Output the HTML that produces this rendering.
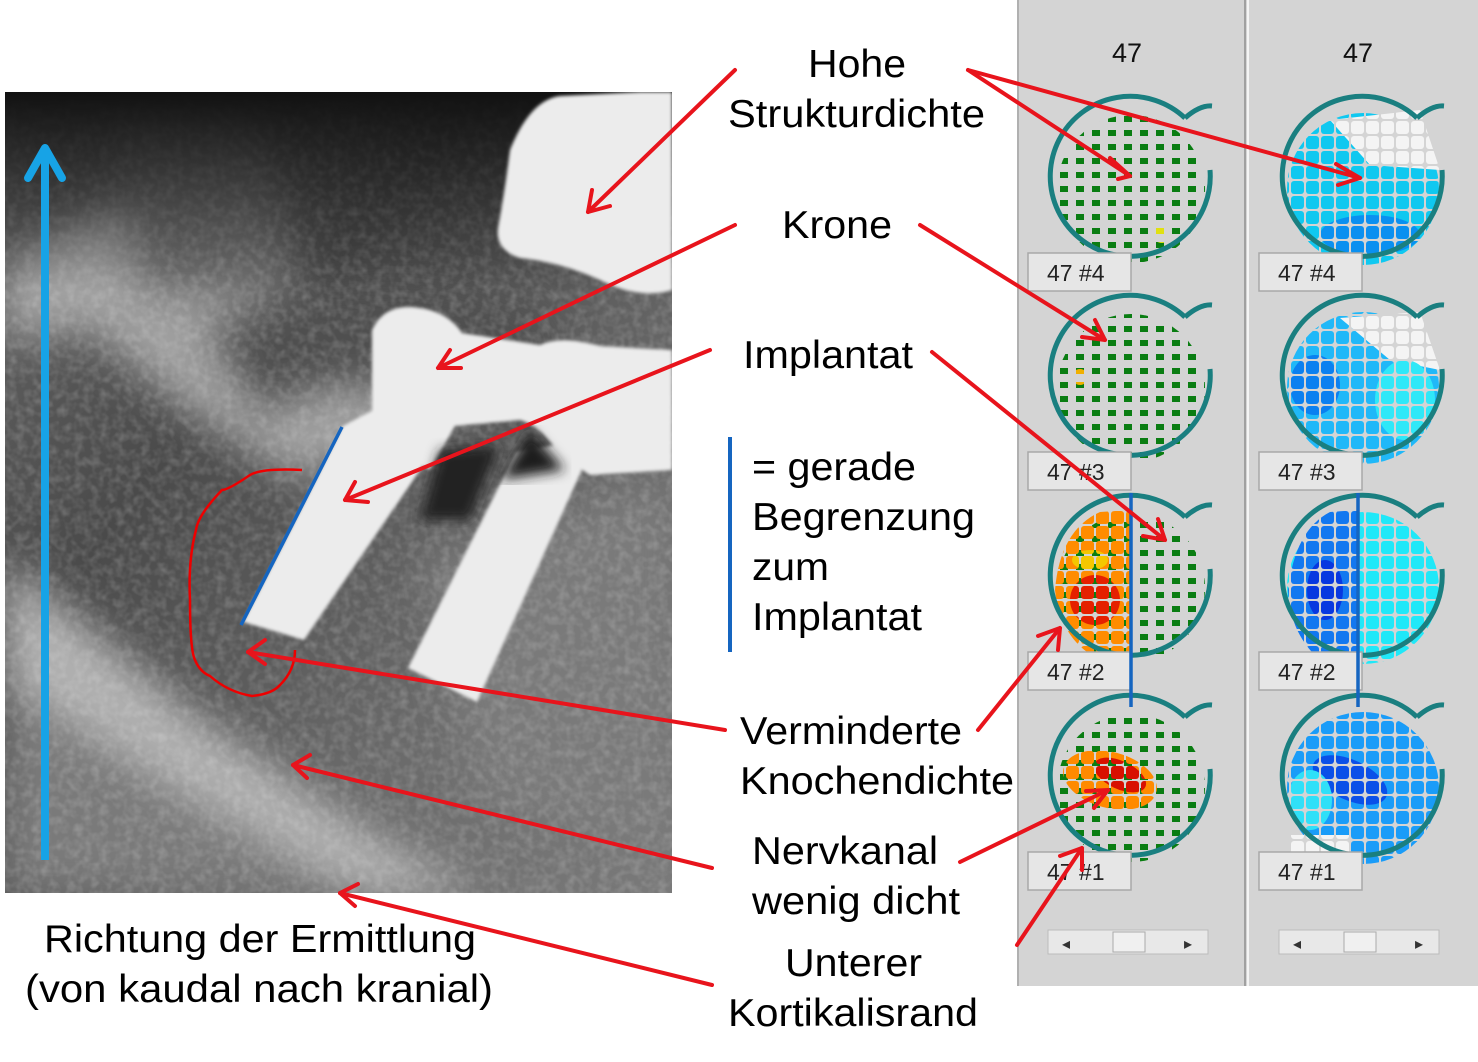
<!DOCTYPE html>
<html><head><meta charset="utf-8"><style>
html,body{margin:0;padding:0;background:#fff}
svg{display:block}
text{font-family:"Liberation Sans",Arial,sans-serif}
</style></head><body>
<svg width="1478" height="1062" viewBox="0 0 1478 1062" xmlns="http://www.w3.org/2000/svg">
<defs>
  <linearGradient id="xbg" x1="0" y1="0" x2="1" y2="1">
    <stop offset="0" stop-color="#6a6a6a"/>
    <stop offset="0.35" stop-color="#4a4a4a"/>
    <stop offset="0.7" stop-color="#6a6a6a"/>
    <stop offset="1" stop-color="#7a7a7a"/>
  </linearGradient>
  <linearGradient id="top" x1="0" y1="0" x2="0" y2="1">
    <stop offset="0" stop-color="#111"/><stop offset="1" stop-color="#111" stop-opacity="0"/>
  </linearGradient>
  <filter id="b6"><feGaussianBlur stdDeviation="6"/></filter>
  <filter id="b2"><feGaussianBlur stdDeviation="1.5"/></filter>
  <filter id="b20"><feGaussianBlur stdDeviation="20"/></filter>
  <filter id="noise" x="0" y="0" width="1" height="1">
    <feTurbulence type="fractalNoise" baseFrequency="0.12" numOctaves="2" seed="3"/>
    <feColorMatrix type="matrix" values="0 0 0 0 1  0 0 0 0 1  0 0 0 0 1  1.2 0 0 0 -0.45"/>
  </filter>
  <clipPath id="xclip"><rect x="5" y="92" width="667" height="801"/></clipPath>
  <pattern id="dots" width="16" height="14" patternUnits="userSpaceOnUse">
    <rect x="4" y="4" width="8" height="6" fill="#fff"/>
  </pattern>
  <pattern id="blobs" width="15" height="15" patternUnits="userSpaceOnUse">
    <rect x="1" y="1" width="13" height="13" rx="3" fill="#fff"/>
  </pattern>
  <mask id="mG" maskUnits="userSpaceOnUse" x="0" y="0" width="1478" height="1062"><rect x="0" y="0" width="1478" height="1062" fill="url(#dots)"/></mask>
  <mask id="mB" maskUnits="userSpaceOnUse" x="0" y="0" width="1478" height="1062"><rect x="0" y="0" width="1478" height="1062" fill="url(#blobs)"/></mask>
</defs>

<g clip-path="url(#xclip)">
  <rect x="5" y="92" width="667" height="801" fill="url(#xbg)"/>
  <g filter="url(#b20)">
    <path d="M5 260 L120 200 L240 260 L330 340 L420 430 L300 480 L200 420 L90 330 L5 340Z" fill="#a0a0a0"/>
    <path d="M5 650 L140 760 L300 830 L420 893 L5 893Z" fill="#7a7a7a"/>
    <path d="M5 560 L200 720 L380 840 L480 893 L360 893 L180 790 L5 680Z" fill="#b0b0b0"/>
    <path d="M100 92 L260 92 L300 300 L140 300Z" fill="#6e6e6e"/>
    <path d="M420 560 L672 480 L672 860 L480 800 Z" fill="#7a7a7a"/>
    <path d="M200 330 Q400 230 560 330 L520 440 Q380 350 260 420Z" fill="#505050"/>
  </g>
  <rect x="5" y="92" width="667" height="801" filter="url(#noise)" opacity="0.3"/>
  <rect x="5" y="92" width="667" height="200" fill="url(#top)"/>
  <g filter="url(#b2)" fill="#ececec">
    <path d="M510 150 Q530 100 560 96 L640 92 L672 92 L672 290 Q640 300 600 280 Q560 262 520 258 Q495 250 498 228 Q505 190 510 150Z"/>
    <path d="M372 330 Q385 302 420 308 Q448 312 462 333 L540 345 Q560 335 600 346 L672 350 L672 470 L590 475 L560 455 Q540 425 520 420 L455 426 L430 470 L372 440Z"/>
    <path d="M343 426 L392 400 L440 440 L412 482 L304 640 L243 622Z"/>
    <path d="M516 452 L585 440 L581 472 L477 702 L408 668Z"/>
  </g>
  <path d="M500 480 L565 470 L530 430 Z" fill="#1a1a1a" filter="url(#b6)"/>
  <path d="M440 450 L500 445 L470 520 L420 520Z" fill="#222" filter="url(#b6)"/>
</g>
<line x1="45" y1="860" x2="45" y2="150" stroke="#17a3e6" stroke-width="8"/>
<polyline points="28,178 45,148 62,178" fill="none" stroke="#17a3e6" stroke-width="8" stroke-linecap="round" stroke-linejoin="round"/>
<line x1="342" y1="427" x2="241" y2="625" stroke="#1565c0" stroke-width="3.5"/>
<path d="M302 470 Q262 468 250 475 Q228 490 222 490 Q198 515 196 530 Q188 560 190 600 Q190 650 195 660 Q200 672 210 676 Q228 692 252 696 Q272 694 280 685 Q295 670 295 650" fill="none" stroke="#e00" stroke-width="2.5"/>

<rect x="1017" y="0" width="461" height="986" fill="#d4d4d4"/>
<line x1="1018" y1="0" x2="1018" y2="986" stroke="#b0b0b0" stroke-width="2"/>
<line x1="1245" y1="0" x2="1245" y2="986" stroke="#a0a0a0" stroke-width="2"/>
<line x1="1248" y1="0" x2="1248" y2="986" stroke="#f4f4f4" stroke-width="2"/>
<text x="1127" y="62" font-size="27" text-anchor="middle" fill="#111">47</text>
<text x="1358" y="62" font-size="27" text-anchor="middle" fill="#111">47</text>

<g>
  <g mask="url(#mG)"><circle cx="1131" cy="189" r="74" fill="#0a7d12"/><circle cx="1162" cy="233" r="10" fill="#e0e010"/></g>
  <g mask="url(#mG)"><circle cx="1131" cy="388" r="74" fill="#0a7d12"/><circle cx="1080" cy="377" r="8" fill="#f0b000"/></g>
  <g mask="url(#mG)"><circle cx="1131" cy="588" r="74" fill="#0a7d12"/></g>
  <g mask="url(#mB)">
    <path d="M1131 510 L1131 660 L1100 660 Q1060 640 1055 590 Q1060 530 1100 512Z" fill="#ff8c00"/>
    <ellipse cx="1095" cy="600" rx="25" ry="25" fill="#e52000"/>
    <ellipse cx="1090" cy="560" rx="18" ry="10" fill="#f0e000" opacity=".7"/>
  </g>
  <g mask="url(#mG)"><circle cx="1131" cy="788" r="74" fill="#0a7d12"/></g>
  <g mask="url(#mB)">
    <ellipse cx="1110" cy="780" rx="48" ry="28" fill="#ff8a00" transform="rotate(15 1110 780)"/>
    <ellipse cx="1120" cy="775" rx="28" ry="14" fill="#d81000" transform="rotate(25 1120 775)"/>
  </g>
</g>
<g mask="url(#mB)">
  <circle cx="1363" cy="189" r="76" fill="#10c8f0"/>
  <path d="M1330 120 L1420 110 L1440 170 L1370 165Z" fill="#f4f4f4"/>
  <ellipse cx="1370" cy="235" rx="50" ry="20" fill="#0a90f0"/>
  <circle cx="1363" cy="388" r="76" fill="#20b8f8"/>
  <path d="M1340 318 L1420 312 L1440 370 L1390 360Z" fill="#f4f4f4"/>
  <ellipse cx="1315" cy="385" rx="25" ry="30" fill="#0a80f0"/>
  <ellipse cx="1405" cy="400" rx="30" ry="40" fill="#30e8f8"/>
  <circle cx="1363" cy="588" r="76" fill="#20e8f8"/>
  <path d="M1358 510 L1358 668 L1330 668 Q1290 640 1288 590 Q1295 530 1330 512Z" fill="#1278f0"/>
  <ellipse cx="1325" cy="590" rx="18" ry="30" fill="#0838e0"/>
  <circle cx="1363" cy="788" r="76" fill="#1a9cf8"/>
  <ellipse cx="1350" cy="780" rx="40" ry="20" fill="#0a50e8" transform="rotate(25 1350 780)"/>
  <ellipse cx="1310" cy="800" rx="22" ry="30" fill="#30e0f8"/>
  <rect x="1290" y="835" width="60" height="30" fill="#f4f4f4"/>
</g>
<g fill="none" stroke="#1a7f80" stroke-width="5">
  <path d="M1185 118 A80 80 0 1 0 1210 170 M1185 118 Q1200 105 1212 106"/>
  <path d="M1185 317 A80 80 0 1 0 1210 369 M1185 317 Q1200 304 1212 305"/>
  <path d="M1185 517 A80 80 0 1 0 1210 569 M1185 517 Q1200 504 1212 505"/>
  <path d="M1185 717 A80 80 0 1 0 1210 769 M1185 717 Q1200 704 1212 705"/>
  <path d="M1417 118 A80 80 0 1 0 1442 170 M1417 118 Q1432 105 1444 106"/>
  <path d="M1417 317 A80 80 0 1 0 1442 369 M1417 317 Q1432 304 1444 305"/>
  <path d="M1417 517 A80 80 0 1 0 1442 569 M1417 517 Q1432 504 1444 505"/>
  <path d="M1417 717 A80 80 0 1 0 1442 769 M1417 717 Q1432 704 1444 705"/>
</g>
<g font-size="23" fill="#222">
  <g fill="#e6e6e6" stroke="#a8a8a8" stroke-width="1.5">
    <rect x="1028" y="253" width="103" height="38"/><rect x="1259" y="253" width="103" height="38"/>
    <rect x="1028" y="452" width="103" height="38"/><rect x="1259" y="452" width="103" height="38"/>
    <rect x="1028" y="652" width="103" height="38"/><rect x="1259" y="652" width="103" height="38"/>
    <rect x="1028" y="852" width="103" height="38"/><rect x="1259" y="852" width="103" height="38"/>
  </g>
  <text x="1047" y="281">47 #4</text><text x="1278" y="281">47 #4</text>
  <text x="1047" y="480">47 #3</text><text x="1278" y="480">47 #3</text>
  <text x="1047" y="680">47 #2</text><text x="1278" y="680">47 #2</text>
  <text x="1047" y="880">47 #1</text><text x="1278" y="880">47 #1</text>
</g>
<g>
  <rect x="1048" y="930" width="160" height="24" fill="#e8e8e8" stroke="#bbb"/>
  <rect x="1113" y="932" width="32" height="20" fill="#f0f0f0" stroke="#aaa"/>
  <text x="1062" y="949" font-size="16" fill="#333">◂</text><text x="1184" y="949" font-size="16" fill="#333">▸</text>
  <rect x="1279" y="930" width="160" height="24" fill="#e8e8e8" stroke="#bbb"/>
  <rect x="1344" y="932" width="32" height="20" fill="#f0f0f0" stroke="#aaa"/>
  <text x="1293" y="949" font-size="16" fill="#333">◂</text><text x="1415" y="949" font-size="16" fill="#333">▸</text>
</g>
<line x1="1131" y1="493" x2="1131" y2="707" stroke="#1565c0" stroke-width="3.5"/>
<line x1="1358" y1="493" x2="1358" y2="707" stroke="#1565c0" stroke-width="3.5"/>
<line x1="730" y1="437" x2="730" y2="652" stroke="#1565c0" stroke-width="4"/>

<g font-size="39" fill="#000">
  <text x="808" y="77" textLength="98" lengthAdjust="spacingAndGlyphs">Hohe</text>
  <text x="728" y="127" textLength="257" lengthAdjust="spacingAndGlyphs">Strukturdichte</text>
  <text x="782" y="238" textLength="110" lengthAdjust="spacingAndGlyphs">Krone</text>
  <text x="743" y="368" textLength="170" lengthAdjust="spacingAndGlyphs">Implantat</text>
  <text x="752" y="480" textLength="164" lengthAdjust="spacingAndGlyphs">= gerade</text>
  <text x="752" y="530" textLength="223" lengthAdjust="spacingAndGlyphs">Begrenzung</text>
  <text x="752" y="580" textLength="77" lengthAdjust="spacingAndGlyphs">zum</text>
  <text x="752" y="630" textLength="170" lengthAdjust="spacingAndGlyphs">Implantat</text>
  <text x="740" y="744" textLength="222" lengthAdjust="spacingAndGlyphs">Verminderte</text>
  <text x="740" y="794" textLength="274" lengthAdjust="spacingAndGlyphs">Knochendichte</text>
  <text x="752" y="864" textLength="186" lengthAdjust="spacingAndGlyphs">Nervkanal</text>
  <text x="752" y="914" textLength="208" lengthAdjust="spacingAndGlyphs">wenig dicht</text>
  <text x="785" y="976" textLength="137" lengthAdjust="spacingAndGlyphs">Unterer</text>
  <text x="728" y="1026" textLength="250" lengthAdjust="spacingAndGlyphs">Kortikalisrand</text>
  <text x="44" y="952" textLength="432" lengthAdjust="spacingAndGlyphs">Richtung der Ermittlung</text>
  <text x="25" y="1002" textLength="468" lengthAdjust="spacingAndGlyphs">(von kaudal nach kranial)</text>
</g>

<g stroke="#e8141c" stroke-width="4" fill="none" stroke-linecap="round">
  <line x1="735" y1="70" x2="588" y2="212"/>
  <line x1="968" y1="70" x2="1130" y2="176"/>
  <line x1="968" y1="70" x2="1360" y2="178"/>
  <line x1="735" y1="225" x2="438" y2="368"/>
  <line x1="920" y1="225" x2="1105" y2="340"/>
  <line x1="710" y1="350" x2="345" y2="500"/>
  <line x1="932" y1="352" x2="1165" y2="540"/>
  <line x1="725" y1="730" x2="248" y2="652"/>
  <line x1="978" y1="730" x2="1060" y2="628"/>
  <line x1="712" y1="868" x2="293" y2="765"/>
  <line x1="960" y1="862" x2="1108" y2="790"/>
  <line x1="712" y1="985" x2="340" y2="893"/>
  <line x1="1017" y1="945" x2="1082" y2="848"/>
</g>
<g fill="none" stroke="#e8141c" stroke-width="4" stroke-linecap="round" stroke-linejoin="round">
  <polyline points="592,190 588,212 610,206"/>
  <polyline points="1110,158 1130,176 1118,179"/>
  <polyline points="1336,164 1360,178 1338,185"/>
  <polyline points="450,350 438,368 461,368"/>
  <polyline points="1095,320 1105,340 1082,337"/>
  <polyline points="355,482 345,500 368,502"/>
  <polyline points="1158,519 1165,540 1143,536"/>
  <polyline points="265,640 248,652 265,664"/>
  <polyline points="1038,636 1060,628 1058,650"/>
  <polyline points="310,755 293,765 307,778"/>
  <polyline points="1086,791 1108,790 1094,808"/>
  <polyline points="358,884 340,893 355,906"/>
  <polyline points="1060,856 1082,848 1082,870"/>
</g>
</svg>
</body></html>
